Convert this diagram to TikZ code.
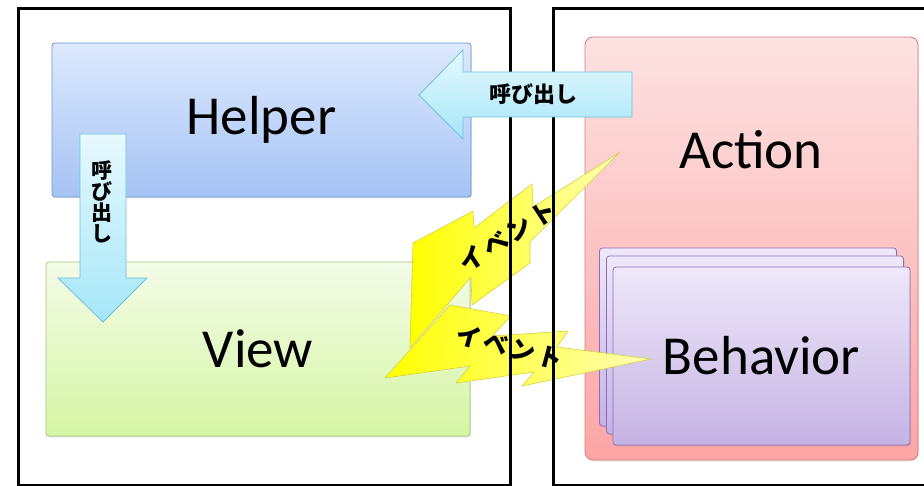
\documentclass[tikz,border=0pt]{standalone}
\usepackage{fontspec}
\setmainfont{Carlito}
\newfontfamily\jp{Noto Sans CJK JP}
\newfontfamily\jpwide{Noto Sans CJK JP}[LetterSpace=12]
\usetikzlibrary{shadows}
\definecolor{helpertop}{HTML}{DDE9FD}
\definecolor{helperbot}{HTML}{A5C3F5}
\definecolor{helperline}{HTML}{6F93D1}
\definecolor{viewtop}{HTML}{F3FCE8}
\definecolor{viewbot}{HTML}{D6F5A4}
\definecolor{viewline}{HTML}{9CC97A}
\definecolor{actiontop}{HTML}{FDE2E2}
\definecolor{actionbot}{HTML}{FCA5A5}
\definecolor{actionline}{HTML}{D97A7A}
\definecolor{behtop}{HTML}{EEE8F9}
\definecolor{behbot}{HTML}{C5B3E4}
\definecolor{behline}{HTML}{8D6DB5}
\definecolor{calltop}{HTML}{E6F9FE}
\definecolor{callbot}{HTML}{A6E6F8}
\definecolor{callline}{HTML}{6CC3DA}
\definecolor{boltleft}{HTML}{FFFF00}
\definecolor{boltright}{HTML}{FFFFB4}
\definecolor{boltline}{HTML}{D6CF3C}
\tikzset{
  box/.style={rectangle, rounded corners=3pt, line width=.8pt, inner sep=0pt,
    drop shadow={shadow xshift=1pt, shadow yshift=-1.5pt, opacity=.2},
    font=\fontsize{55}{60}\selectfont},
  helperbox/.style={box, draw=helperline, top color=helpertop, bottom color=helperbot},
  viewbox/.style={box, draw=viewline, top color=viewtop, bottom color=viewbot},
  actionbox/.style={box, rounded corners=8pt, draw=actionline, top color=actiontop, bottom color=actionbot},
  behbox/.style={box, draw=behline, top color=behtop, bottom color=behbot,
    minimum width=297pt, minimum height=178pt},
  pane/.style={draw=black, line width=3pt, inner sep=0pt},
  callarrow/.style={draw=callline, line width=.8pt, top color=calltop, bottom color=callbot},
  bolt/.style={draw=boltline, line width=.6pt, left color=boltleft, right color=boltright},
  calltext/.style={font=\jp\bfseries\fontsize{22}{22}\selectfont, align=center, inner sep=0pt},
  eventtext/.style={font=\jpwide\bfseries\fontsize{25}{25}\selectfont, inner sep=0pt}
}

\begin{document}
\begin{tikzpicture}[x=1pt,y=-1pt]
  \useasboundingbox (0,0) rectangle (924,486);
  % boxes
  \node[helperbox, minimum width=419pt, minimum height=154pt] (helper) at (261.5,120) {Helper};
  \node[viewbox, minimum width=424pt, minimum height=174pt] (view) at (258,349) {View};
  \node[actionbox, minimum width=333pt, minimum height=423pt] (action) at (751.5,248.5) {};
  \node[font=\fontsize{55}{60}\selectfont] (actiontxt) at (751,150) {Action};
  \node[behbox] (beh3) at (748,337) {};
  \node[behbox] (beh2) at (755,345) {};
  \node[behbox] (beh1) at (761.5,356) {Behavior};
  % events
  \draw[bolt] (619,153) -- (533,207) -- (532,184) -- (474,228) -- (473,211) -- (413,243)
    -- (410,348) -- (471,277) -- (472,305) -- (530,263) -- (530,242) -- cycle;
  \draw[bolt] (385,378) -- (450,305) -- (511,316) -- (492,336) -- (568,331) -- (557,347)
    -- (651,359) -- (522,386) -- (534,372) -- (456,383) -- (470,366) -- cycle;
  % panes
  \node[pane, minimum width=492pt, minimum height=476pt] (leftpane) at (264,247) {};
  \node[pane, minimum width=377pt, minimum height=476pt] (rightpane) at (741.5,247) {};
  \node[eventtext, rotate=33] (ev1) at (507,236) {イベント};
  \node[eventtext, rotate=-15] (ev2) at (510,347) {イベント};
  % calls
  \draw[callarrow] (419,95) -- (463,50) -- (463,72) -- (632,72) -- (632,117)
    -- (463,117) -- (463,139) -- cycle;
  \draw[callarrow] (80,134) -- (126,134) -- (126,278) -- (147,278) -- (103,322)
    -- (58,278) -- (80,278) -- cycle;
  \node[calltext] (call1) at (533.5,94) {呼び出し};
  \node[calltext, font=\jp\bfseries\fontsize{21}{21}\selectfont] (call2) at (102,202) {呼\\び\\出\\し};
\end{tikzpicture}
\end{document}
